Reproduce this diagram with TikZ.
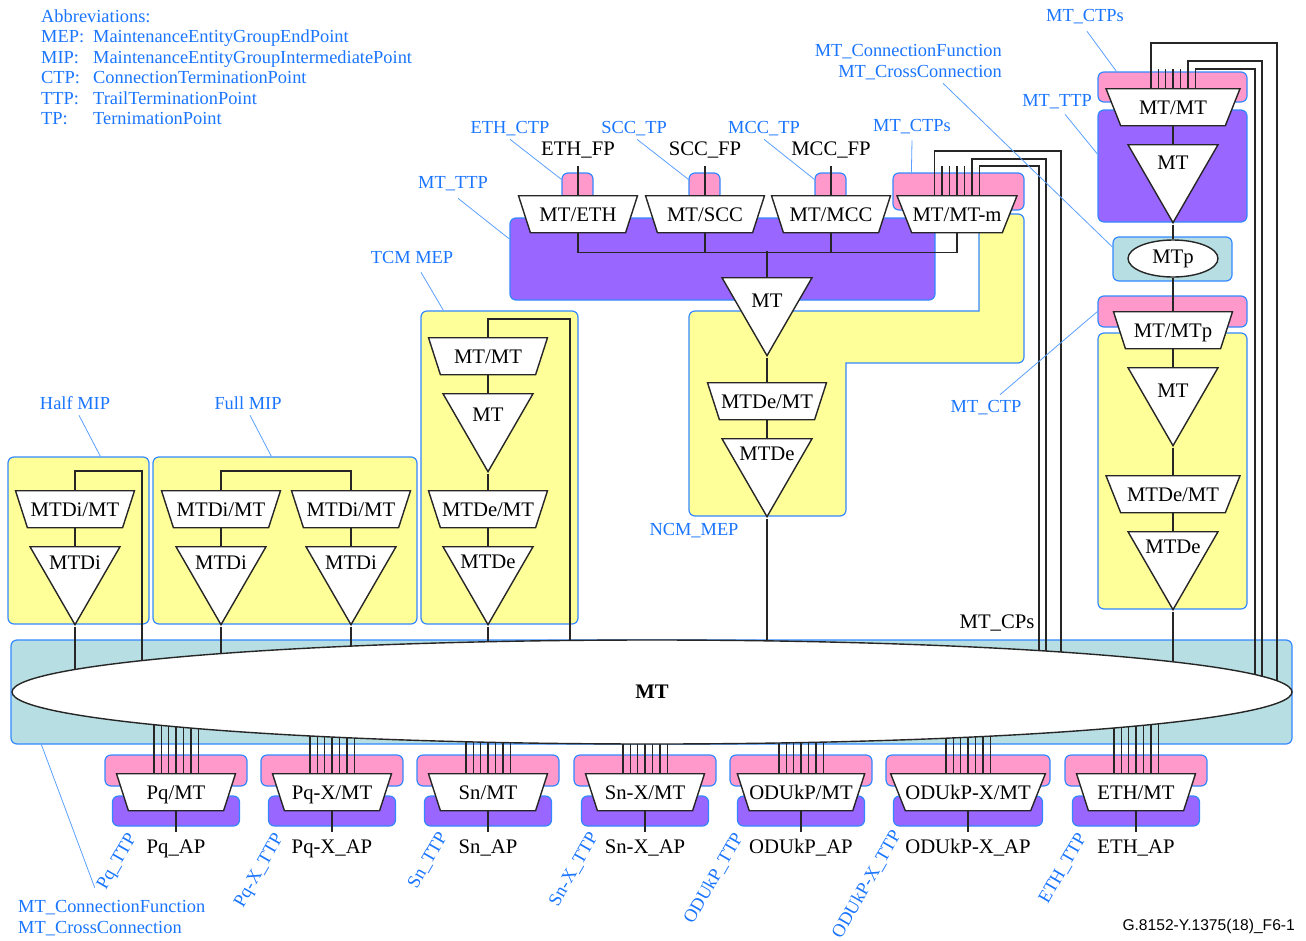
\documentclass[tikz,border=0pt]{standalone}
\usepackage{fontspec}
\setmainfont{Liberation Serif}
\newfontfamily\codefont{Liberation Sans}
\usetikzlibrary{positioning,calc,fit,shapes.geometric}
\definecolor{mtpink}{HTML}{FF99CC}
\definecolor{mtviolet}{HTML}{9966FF}
\definecolor{mtyellow}{HTML}{FFFF99}
\definecolor{mtteal}{HTML}{B7DEE2}
\definecolor{mtblue}{HTML}{3388FF}
\definecolor{mtlabel}{HTML}{1A75FF}
\pgfdeclarelayer{back}
\pgfdeclarelayer{wires}
\pgfsetlayers{back,wires,main}
\tikzset{
	box/.style={draw=mtblue, line width=1.2pt, rounded corners=6pt, inner sep=0pt},
	pinkbox/.style={box, fill=mtpink},
	violetbox/.style={box, fill=mtviolet},
	yellowbox/.style={box, fill=mtyellow},
	tealbox/.style={box, fill=mtteal},
	wire/.style={draw=black!85, line width=1.4pt},
	leader/.style={draw=mtblue!80, line width=.8pt},
	blk/.style={inner sep=0pt, text height=13.7pt, text depth=0pt, font=\fontsize{20.7}{24}\selectfont},
	blu/.style={inner sep=0pt, text height=12.2pt, text depth=0pt, text=mtlabel, font=\fontsize{18.4}{22}\selectfont},
	trap/.style={blk, trapezium, trapezium left angle=131, trapezium right angle=131, trapezium stretches body=true,
		minimum width=119pt, minimum height=37pt, draw=black!85, line width=1.4pt, fill=white, anchor=top side},
	trapwide/.style={trap, trapezium left angle=137, trapezium right angle=137, minimum width=134pt},
	tri/.style={isosceles triangle, isosceles triangle stretches, shape border rotate=-90, inner sep=0pt,
		minimum width=90pt, minimum height=78pt, draw=black!85, line width=1.4pt, fill=white, anchor=lower side},
}
\begin{document}
\begin{tikzpicture}[x=1pt,y=-1pt]
	\useasboundingbox (0,0) rectangle (1306,940);

	% coloured areas
	\begin{pgfonlayer}{back}
		\node[tealbox, fit={(11,640)(1292,744)}] (band) {};
		\node[yellowbox, fit={(8,457)(149,624)}] (halfbox) {};
		\node[yellowbox, fit={(153,457)(417,624)}] (fullbox) {};
		\node[yellowbox, fit={(421,311)(578,624)}] (tcmbox) {};
		\node[violetbox, fit={(510,218)(935,300)}] (ttpbox) {};
		\node[pinkbox, fit={(562,173)(593,200)}] (ethbox) {};
		\node[pinkbox, fit={(689,173)(720,200)}] (sccbox) {};
		\node[pinkbox, fit={(815,173)(846,200)}] (mccbox) {};
		\node[pinkbox, fit={(893,173)(1024,210)}] (ctpbox) {};
		\draw[box, fill=mtyellow] (900,311) [sharp corners] -- (979,311) -- (979,214) [rounded corners=6pt] -- (1024,214)
			-- (1024,363) [sharp corners] -- (846,363) [rounded corners=6pt] -- (846,516) -- (689,516) -- (689,311) -- cycle;
		\node[pinkbox, fit={(1098,72)(1247,102)}] (topctpbox) {};
		\node[violetbox, fit={(1098,110)(1247,222)}] (topttpbox) {};
		\node[tealbox, fit={(1113,237)(1232,281)}] (cfbox) {};
		\node[pinkbox, fit={(1098,296)(1247,327)}] (lowctpbox) {};
		\node[yellowbox, fit={(1098,333)(1247,609)}] (lowbox) {};
	\end{pgfonlayer}

	\node[ellipse, draw=black!85, line width=1.4pt, fill=white, inner sep=0pt, minimum width=1280pt, minimum height=104pt,
		font=\fontsize{20.7}{24}\selectfont\bfseries] (cf) at (652,692) {MT};
	\node[ellipse, draw=black!85, line width=1.4pt, fill=white, inner sep=0pt, minimum width=90pt, minimum height=37pt,
		font=\fontsize{20.7}{24}\selectfont] (cfp) at (1173,258.5) {MTp};

	% adaptation functions
	\foreach \n/\x/\y/\t in {half/75/490/{MTDi/MT}, fulla/221/490/{MTDi/MT}, fullb/351/490/{MTDi/MT},
		tcm/488/337/{MT/MT}, tcme/488/490/{MTDe/MT}, eth/578/195/{MT/ETH}, scc/705/195/{MT/SCC}, mcc/831/195/{MT/MCC},
		ncm/767/382/{MTDe/MT}, lowp/1173/311/{MT/MTp}}
		\node[trap] (\n-a) at (\x,\y) {\t};
	\node[trapwide, minimum width=120pt] (mtm-a) at (957,195) {MT/MT-m};
	\node[trapwide] (top-a) at (1173,88) {MT/MT};
	\node[trapwide] (low-a) at (1173,475) {MTDe/MT};

	% termination functions
	\foreach \n/\x/\y/\o/\t in {half/75/546/17/MTDi, fulla/221/546/17/MTDi, fullb/351/546/17/MTDi, tcm/488/393/22/MT,
		tcme/488/546/16/MTDe, mid/767/277/24/MT, ncm/767/438/16/MTDe, top/1173/144/19/MT, lowp/1173/367/24/MT, low/1173/531/16/MTDe}{
		\node[tri] (\n-t) at (\x,\y) {};
		\node[blk] (\n-l) at (\x,\y+\o) {\t};
	}

	% layer adaptations below the connection function
	\foreach \n/\x/\t/\w/\s in {pq/176/Pq/71/trap, pqx/332/Pq-X/71/trap, sn/488/Sn/71/trap, snx/645/Sn-X/71/trap,
		odu/801/ODUkP/71/trap, odx/968/ODUkP-X/82/trapwide, ethp/1136/ETH/71/trap}{
		\begin{pgfonlayer}{back}
			\node[pinkbox, fit={(\x-\w,755)(\x+\w,786)}] (\n-c) {};
			\node[violetbox, fit={(\x-\w+7.5,796)(\x+\w-7.5,826)}] (\n-p) {};
		\end{pgfonlayer}
		\node[\s] (\n-a) at (\x,773) {\t/MT};
		\node[blk] (\n-ap) at (\x,846.5) {\t\_AP};
		\draw[wire, shorten >=7pt] (\n-a.bottom side) -- (\n-ap.north);
		\begin{pgfonlayer}{wires}
			\foreach \d in {-22.2,-14.8,-7.4,0,7.4,14.8,22.2}
				\draw[wire] ([xshift=\d pt]\n-a.top side) -- ([xshift=\d pt]\n-a.top side |- cf.center);
		\end{pgfonlayer}
	}

	\coordinate (ra) at (1277,692);
	\coordinate (rb) at (1262,692);
	\coordinate (rc) at (1255,692);
	\coordinate (ma) at (1061,692);
	\coordinate (mb) at (1046,692);
	\coordinate (mc) at (1039,692);

	\begin{pgfonlayer}{wires}
		\foreach \n in {half,fulla,fullb,tcme,ncm,low}
			\draw[wire] (\n-t.apex) -- (\n-t.apex |- cf.center);
		\foreach \n/\m in {half/half,fulla/fulla,fullb/fullb,tcm/tcm,tcme/tcme,ncm/ncm,top/top,lowp/lowp,low/low}
			\draw[wire] (\n-a.bottom side) -- (\m-t.lower side);
		\draw[wire] (tcm-t.apex) -- (tcme-a.top side);
		\draw[wire] (lowp-t.apex) -- (low-a.top side);
		\draw[wire] (mid-t.apex) -- (ncm-a.top side);
		\draw[wire] (top-t.apex) -- (cfp.north);
		\draw[wire] (cfp.south) -- (lowp-a.top side);

		% loops of the monitoring points
		\draw[wire] (half-a.top side) -- ++(0,-19) -- ++(67,0) -- (142,692);
		\draw[wire] (fulla-a.top side) -- ++(0,-19) -| (fullb-a.top side);
		\draw[wire] (tcm-a.top side) -- ++(0,-18) -- ++(82,0) -- (570,692);

		% bus below the client adaptations
		\draw[wire] (eth-a.bottom side) -- ++(0,19) -| (mtm-a.bottom side);
		\draw[wire] (scc-a.bottom side) -- ++(0,19);
		\draw[wire] (mcc-a.bottom side) -- ++(0,19);
		\draw[wire] (mid-t.lower side) -- ++(0,-26);

		% matrix connection points
		\foreach \d in {-15,-7.4,0,7.4}
			\draw[wire] ([xshift=\d pt]mtm-a.top side) -- ++(0,-29);
		\draw[wire] ([xshift=-22.5pt]mtm-a.top side) -- ++(0,-44) -| (ma);
		\draw[wire] ([xshift=15pt]mtm-a.top side) -- ++(0,-36) -| (mb);
		\draw[wire] ([xshift=22.2pt]mtm-a.top side) -- ++(0,-29) -| (mc);
		\foreach \d in {-14.8,-7.4,0,7.4}
			\draw[wire] ([xshift=\d pt]top-a.top side) -- ++(0,-19);
		\draw[wire] ([xshift=-22.2pt]top-a.top side) -- ++(0,-45) -| (ra);
		\draw[wire] ([xshift=14.8pt]top-a.top side) -- ++(0,-27) -| (rb);
		\draw[wire] ([xshift=22.2pt]top-a.top side) -- ++(0,-19) -| (rc);
	\end{pgfonlayer}

	% client points
	\node[blk] (ethfp) at (578,149) {ETH\_FP};
	\node[blk] (sccfp) at (705,149) {SCC\_FP};
	\node[blk] (mccfp) at (831,149) {MCC\_FP};
	\node[blk] (cps) at (997,622) {MT\_CPs};
	\foreach \n/\m in {eth/ethfp,scc/sccfp,mcc/mccfp}
		\draw[wire, shorten >=10pt] (\n-a.top side) -- (\m.south);

	% abbreviations
	\node[blu, anchor=west] (abbr) at (41,16) {Abbreviations:};
	\foreach \k/\v/\y/\n in {MEP:/MaintenanceEntityGroupEndPoint/36/abmep, MIP:/MaintenanceEntityGroupIntermediatePoint/57/abmip,
		CTP:/ConnectionTerminationPoint/77/abctp, TTP:/TrailTerminationPoint/98/abttp, TP:/TernimationPoint/118/abtp}{
		\node[blu, anchor=west] (\n-k) at (41,\y) {\k};
		\node[blu, anchor=west] (\n-v) at (93,\y) {\v};
	}

	% labels and their leaders
	\node[blu] (lbtopctp) at (1085,15) {MT\_CTPs};
	\node[blu, anchor=east] (lbcfa) at (1002,50) {MT\_ConnectionFunction};
	\node[blu, anchor=east] (lbcfb) at (1002,71) {MT\_CrossConnection};
	\node[blu] (lbtopttp) at (1057,100) {MT\_TTP};
	\node[blu] (lbctps) at (912,125) {MT\_CTPs};
	\node[blu] (lbeth) at (510,127) {ETH\_CTP};
	\node[blu] (lbscc) at (634,127) {SCC\_TP};
	\node[blu] (lbmcc) at (764,127) {MCC\_TP};
	\node[blu] (lbttp) at (453,182) {MT\_TTP};
	\node[blu] (lbtcm) at (412,257) {TCM MEP};
	\node[blu] (lbhalf) at (75,403) {Half MIP};
	\node[blu] (lbfull) at (248,403) {Full MIP};
	\node[blu] (lbncm) at (694,529) {NCM\_MEP};
	\node[blu] (lbctp) at (986,406) {MT\_CTP};
	\node[blu, anchor=west] (lbcfc) at (18,906) {MT\_ConnectionFunction};
	\node[blu, anchor=west] (lbcfd) at (18,927) {MT\_CrossConnection};

	\draw[leader] ([shift={(2pt,-10pt)}]lbtopctp.south) -- ([xshift=19pt]topctpbox.north west);
	\draw[leader] ([shift={(23pt,-6pt)}]lbcfb.south) -- ([yshift=12pt]cfbox.west);
	\draw[leader] ([shift={(8pt,-8pt)}]lbtopttp.south) -- ([yshift=12pt]topttpbox.west);
	\draw[leader] ([yshift=-9pt]lbctps.south) -- ([xshift=19pt]ctpbox.north west);
	\draw[leader] ([yshift=-6pt]lbeth.south) -- ([yshift=-7pt]ethbox.north west);
	\draw[leader] ([shift={(3pt,-6pt)}]lbscc.south) -- ([yshift=-7pt]sccbox.north west);
	\draw[leader] ([yshift=-6pt]lbmcc.south) -- ([yshift=-7pt]mccbox.north west);
	\draw[leader] ([shift={(5pt,-10pt)}]lbttp.south) -- ([yshift=20pt]ttpbox.west);
	\draw[leader] ([shift={(9pt,-9pt)}]lbtcm.south) -- ([xshift=23pt]tcmbox.north west);
	\draw[leader] ([shift={(4pt,-6pt)}]lbhalf.south) -- ([xshift=93pt]halfbox.north west);
	\draw[leader] ([shift={(2pt,-6pt)}]lbfull.south) -- ([xshift=119pt]fullbox.north west);
	\draw[leader] ([shift={(14pt,5pt)}]lbctp.north) -- (lowctpbox.west);
	\draw[leader] ([shift={(-17pt,12pt)}]lbcfc.north) -- ([xshift=31pt]band.south west);

	% termination points below, turned
	\foreach \n/\x/\y/\t in {pq/116/861/Pq, pqx/258/870/Pq-X, sn/427/860/Sn, snx/573/869/Sn-X,
		odu/713/878/ODUkP, odx/866/884/ODUkP-X, ethp/1062/868/ETH}
		\node[blu, rotate=60] (\n-ttp) at (\x,\y) {\t\_TTP};

	\node[inner sep=0pt, anchor=east, font=\codefont\fontsize{15.6}{18}\selectfont] (figid) at (1295,926) {G.8152-Y.1375(18)\_F6-1};
\end{tikzpicture}
\end{document}
